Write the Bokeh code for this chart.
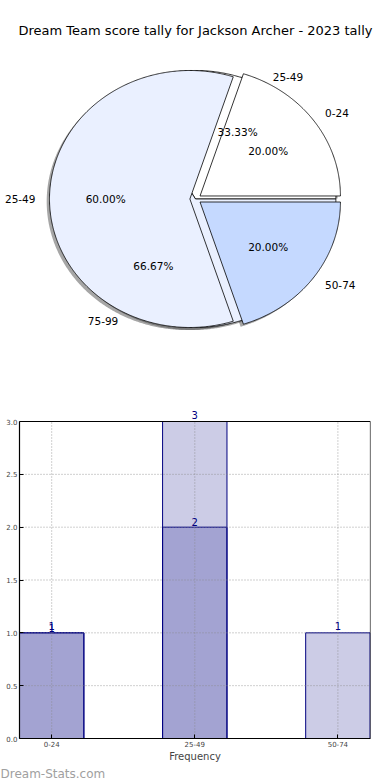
import numpy as np
from bokeh.plotting import figure
from bokeh.models import (Range1d, ColumnDataSource, FixedTicker,
                          NumeralTickFormatter, Title)
from bokeh.layouts import column
from bokeh.embed import file_html
from bokeh.resources import INLINE
from bokeh.core.properties import value

TITLE = "Dream Team score tally for Jackson Archer - 2023 tally"

# ---- data ----
pie1_labels = ["0-24", "25-49", "50-74"]
pie1_values = [1, 3, 1]
pie1_colors = ["#FFFFFF", "#EAF0FF", "#C5D9FF"]

pie2_labels = ["25-49", "75-99"]
pie2_values = [1, 2]
pie2_colors = ["#FFFFFF", "#EAF0FF"]

bar_categories = ["0-24", "25-49", "50-74"]
bar_light_cats = ["0-24", "25-49", "50-74"]
bar_light_vals = [1, 3, 1]
bar_dark_cats = ["0-24", "25-49"]
bar_dark_vals = [1, 2]
y_ticks = [0.0, 0.5, 1.0, 1.5, 2.0, 2.5, 3.0]

FONT = value("DejaVu Sans")


def pie_geometry(values, labels, explode):
    total = float(sum(values))
    xs, ys, lx, ly, la, px, py, pt = [], [], [], [], [], [], [], []
    a = 0.0
    for v, lab in zip(values, labels):
        span = 360.0 * v / total
        t = np.radians(np.linspace(a, a + span, max(int(span) * 2, 6)))
        mid = np.radians(a + span / 2)
        cx, cy = explode * np.cos(mid), explode * np.sin(mid)
        xs.append(list(np.concatenate([[cx], cx + np.cos(t), [cx]])))
        ys.append(list(np.concatenate([[cy], cy + np.sin(t), [cy]])))
        lx.append(cx + 1.1 * np.cos(mid))
        ly.append(cy + 1.1 * np.sin(mid))
        la.append("left" if np.cos(mid) > 0 else "right")
        px.append(cx + 0.6 * np.cos(mid))
        py.append(cy + 0.6 * np.sin(mid))
        pt.append("%.2f%%" % (100.0 * v / total))
        a += span
    return xs, ys, lx, ly, la, px, py, pt


p1 = figure(width=390, height=402, x_range=Range1d(-1.389, 1.389),
            y_range=Range1d(-1.5837, 1.5447), output_backend="svg",
            toolbar_location=None, x_axis_location=None, y_axis_location=None,
            min_border=0)
p1.grid.visible = False
p1.outline_line_color = None

g2 = pie_geometry(pie2_values, pie2_labels, 0.0)
g1 = pie_geometry(pie1_values, pie1_labels, 0.04)

SH = 0.02
for g in (g2, g1):
    p1.patches(xs=[[x - SH for x in xx] for xx in g[0]],
               ys=[[y - SH for y in yy] for yy in g[1]],
               fill_color="#4d4d4d", fill_alpha=0.5, line_color=None)

p1.patches(xs=g2[0], ys=g2[1], fill_color=pie2_colors, line_color="black", line_width=0.8)
p1.patches(xs=g1[0], ys=g1[1], fill_color=pie1_colors, line_color="black", line_width=0.8)

for g, labs in ((g2, pie2_labels), (g1, pie1_labels)):
    src = ColumnDataSource(dict(x=g[2], y=g[3], t=labs, a=g[4]))
    p1.text(x="x", y="y", text="t", text_align="a", text_baseline="middle",
            text_font=FONT, text_font_size="10.5px", text_color="black", source=src)
    src2 = ColumnDataSource(dict(x=g[5], y=g[6], t=g[7]))
    p1.text(x="x", y="y", text="t", text_align="center", text_baseline="middle",
            text_font=FONT, text_font_size="10.5px", text_color="black", source=src2)

p1.text(x=[0], y=[1.311], text=[TITLE], text_align="center", text_baseline="middle",
        text_font=FONT, text_font_size="13px", text_color="black")

# ---- bar chart ----
X0, X1 = -0.225, 2.228
Y0, YTOP = 0.0, 3.0
p2 = figure(width=390, height=378, x_range=Range1d(X0, X1), y_range=Range1d(Y0, 3.161),
            output_backend="svg", toolbar_location=None,
            min_border_top=2, min_border_right=20, min_border_left=19, min_border_bottom=0)
p2.outline_line_color = None
p2.grid.visible = False

idx = {c: i for i, c in enumerate(bar_categories)}
light = ColumnDataSource(dict(x=[idx[c] for c in bar_light_cats], top=bar_light_vals,
                              t=[str(v) for v in bar_light_vals]))
dark = ColumnDataSource(dict(x=[idx[c] for c in bar_dark_cats], top=bar_dark_vals,
                             t=[str(v) for v in bar_dark_vals]))
p2.vbar(x="x", top="top", width=0.45, fill_color="navy", fill_alpha=0.2,
        line_color="navy", line_width=1, source=light)
p2.vbar(x="x", top="top", width=0.45, fill_color="navy", fill_alpha=0.2,
        line_color="navy", line_width=1, source=dark)

# dotted grid on top of the bars (limited to the 0..3 box)
xt = list(range(len(bar_categories)))
p2.segment(x0=xt, y0=[Y0] * len(xt), x1=xt, y1=[YTOP] * len(xt),
           line_color="#8a8a8a", line_dash="1 2", line_width=1, line_alpha=0.8)
p2.segment(x0=[X0] * len(y_ticks), y0=y_ticks, x1=[X1] * len(y_ticks), y1=y_ticks,
           line_color="#8a8a8a", line_dash="1 2", line_width=1, line_alpha=0.8)
# box top and right edges
p2.segment(x0=[X0, X1], y0=[YTOP, Y0], x1=[X1, X1], y1=[YTOP, YTOP],
           line_color="black", line_width=1.2)

for src, off in ((light, -3), (dark, -1)):
    p2.text(x="x", y="top", text="t", source=src, text_align="center",
            text_baseline="bottom", y_offset=off, text_color="navy",
            text_font=FONT, text_font_size="10px")

p2.xaxis.ticker = FixedTicker(ticks=xt)
p2.xaxis.major_label_overrides = {i: c for i, c in enumerate(bar_categories)}
p2.yaxis.ticker = FixedTicker(ticks=y_ticks)
p2.yaxis.formatter = NumeralTickFormatter(format="0.0")
p2.yaxis.bounds = (Y0, YTOP)
for ax in (p2.xaxis, p2.yaxis):
    ax.major_label_text_font = "DejaVu Sans"
    ax.major_label_text_font_size = "7px"
    ax.major_label_standoff = 2
    ax.major_tick_in = 4
    ax.major_tick_out = 0
    ax.minor_tick_line_color = None
    ax.axis_line_color = "black"
    ax.axis_line_width = 1.2
p2.xaxis.axis_label = "Frequency"
p2.xaxis.axis_label_text_font = "DejaVu Sans"
p2.xaxis.axis_label_text_font_size = "10px"
p2.xaxis.axis_label_text_font_style = "normal"
p2.xaxis.axis_label_standoff = 1

p2.add_layout(Title(text="Dream-Stats.com", align="left", text_color="#a0a0a0",
                    text_font="DejaVu Sans", text_font_size="12px",
                    text_font_style="normal", standoff=0, offset=-19), "below")

for p in (p1, p2):
    try:
        p.frame_align = False
    except Exception:
        pass

layout = column(p1, p2, spacing=0)
open("out.html", "w").write(file_html(layout, INLINE))
